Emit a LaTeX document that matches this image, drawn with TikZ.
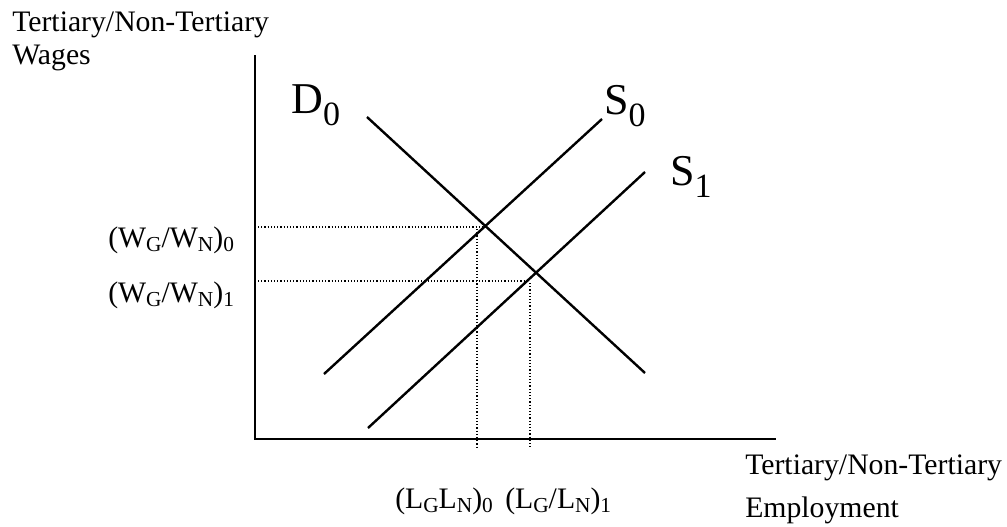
\documentclass[tikz,border=0pt]{standalone}
\usepackage{fontspec}
\setmainfont{Liberation Serif}
\newcommand{\lowsub}[1]{\raisebox{-3pt}{\fontsize{16}{16}\selectfont #1}}
\newcommand{\bigsub}[1]{\raisebox{-9pt}{\fontsize{25.5}{25.5}\selectfont #1}}
\begin{document}
\begin{tikzpicture}[x=0.75pt,y=-0.75pt,
  axis/.style={line width=2pt},
  curve/.style={line width=1.8pt},
  guide/.style={line width=0.9pt,dash pattern=on 0.9pt off 1.5pt},
  txt/.style={inner sep=0pt,anchor=base west,font=\fontsize{22.3}{22.3}\selectfont},
  big/.style={inner sep=0pt,anchor=base west,font=\fontsize{33}{33}\selectfont}]
\useasboundingbox (0,0) rectangle (1007,526);
% axes
\coordinate (ytop) at (255,55);
\coordinate (orig) at (255,439);
\coordinate (xend) at (776,439);
\draw[axis] (ytop) -- (orig) -- (xend);
% curves
\coordinate (d0a) at (367,117);
\coordinate (d0b) at (645,373);
\coordinate (s0a) at (324,374);
\coordinate (s0b) at (602,119);
\coordinate (s1a) at (368,428);
\coordinate (s1b) at (645,172);
\draw[curve] (d0a) -- (d0b);
\draw[curve] (s0a) -- (s0b);
\draw[curve] (s1a) -- (s1b);
% guides
\coordinate (h0a) at (258,227);
\coordinate (h0b) at (484,227);
\coordinate (v0a) at (477,229);
\coordinate (v0b) at (477,447);
\coordinate (h1a) at (258,281);
\coordinate (h1b) at (528,281);
\coordinate (v1a) at (530,283);
\coordinate (v1b) at (530,447);
\draw[guide] (h0a) -- (h0b);
\draw[guide] (v0a) -- (v0b);
\draw[guide] (h1a) -- (h1b);
\draw[guide] (v1a) -- (v1b);
% labels
\node[txt] (ylab1) at (12,31) {Tertiary/Non-Tertiary};
\node[txt] (ylab2) at (12,64) {Wages};
\node[txt] (xlab1) at (745,474) {Tertiary/Non-Tertiary};
\node[txt] (xlab2) at (745,517) {Employment};
\node[txt] (w0) at (108,247) {(W\lowsub{G}/W\lowsub{N})\lowsub{0}};
\node[txt] (w1) at (108,302) {(W\lowsub{G}/W\lowsub{N})\lowsub{1}};
\node[txt] (l0) at (395,508) {(L\lowsub{G}L\lowsub{N})\lowsub{0}};
\node[txt] (l1) at (505,508) {(L\lowsub{G}/L\lowsub{N})\lowsub{1}};
\node[big] (dlab) at (291,113) {D\bigsub{0}};
\node[big] (s0lab) at (604,114) {S\bigsub{0}};
\node[big] (s1lab) at (670,185) {S\bigsub{1}};
\end{tikzpicture}
\end{document}
